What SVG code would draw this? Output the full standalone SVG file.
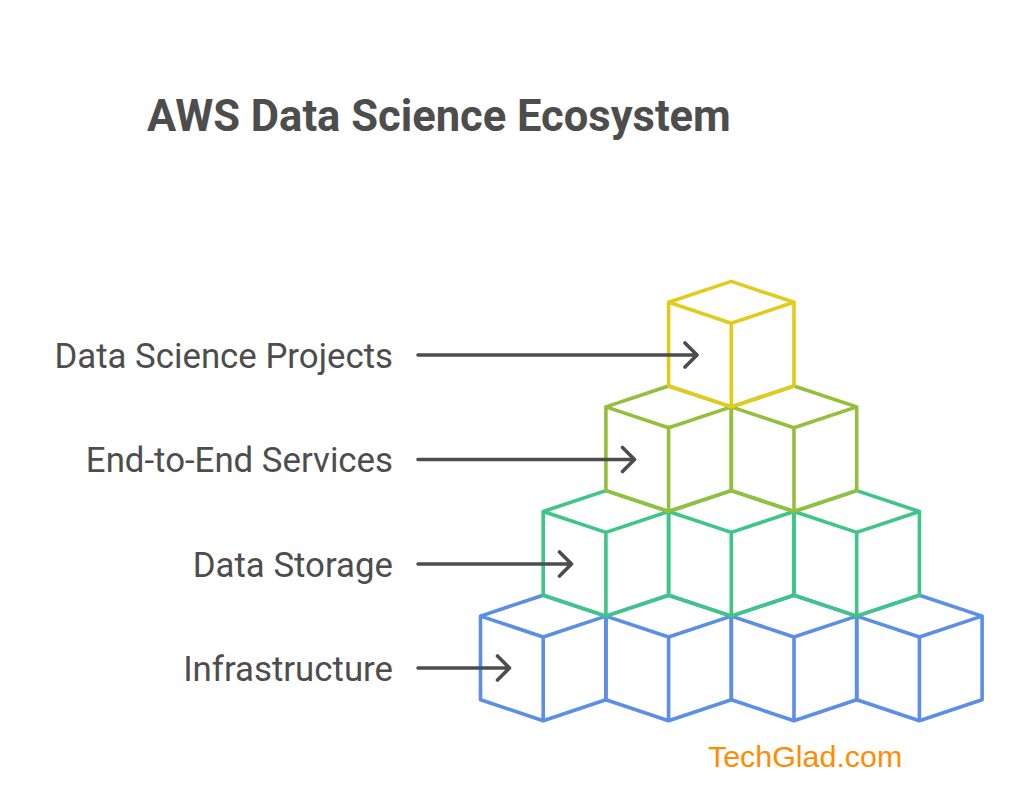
<svg xmlns="http://www.w3.org/2000/svg" xmlns:xlink="http://www.w3.org/1999/xlink" width="1024" height="804" viewBox="0 0 1024 804">
<style>
.t{font-family:Roboto,"Liberation Sans",sans-serif;fill:#4d4d4d}
.title{font-size:43.5px;font-weight:700}
.lab{font-size:34.8px;text-anchor:end}
.cube{fill:none;stroke-width:3.6;stroke-linejoin:round;stroke-linecap:round}
.arrow{fill:none;stroke:#4d4d4d;stroke-width:3.6;stroke-linecap:round;stroke-linejoin:round}
.blue{stroke:#5b8ee6}.green{stroke:#3ec688}.olive{stroke:#93c03b}.yellow{stroke:#e3cb1c}
</style>
<defs>
<path id="c" d="M0 0L62.7 20.9L0 41.8L-62.7 20.9ZM-62.7 20.9V104.6L0 125.5L62.7 104.6V20.9M0 41.8V125.5"/>
</defs>
<rect width="1024" height="804" fill="#ffffff"/>
<text id="title" class="t title" x="147" y="130.5">AWS Data Science Ecosystem</text>
<g id="infrastructure-cubes" class="cube blue">
<use xlink:href="#c" x="543.2" y="595.2"/><use xlink:href="#c" x="668.6" y="595.2"/><use xlink:href="#c" x="794" y="595.2"/><use xlink:href="#c" x="919.4" y="595.2"/>
</g>
<g id="storage-cubes" class="cube green">
<use xlink:href="#c" x="605.9" y="490.6"/><use xlink:href="#c" x="731.3" y="490.6"/><use xlink:href="#c" x="856.7" y="490.6"/>
</g>
<g id="services-cubes" class="cube olive">
<use xlink:href="#c" x="668.6" y="386"/><use xlink:href="#c" x="794" y="386"/>
</g>
<g id="projects-cube" class="cube yellow">
<use xlink:href="#c" x="731.3" y="281.4"/>
</g>
<g id="connectors" class="arrow">
<path d="M418 355H697M685 343L697 355L685 367"/>
<path d="M418 459.5H634.5M622.5 447.5L634.5 459.5L622.5 471.5"/>
<path d="M418 564H571.5M559.5 552L571.5 564L559.5 576"/>
<path d="M418 668H509.5M497.5 656L509.5 668L497.5 680"/>
</g>
<g id="node-projects"><text class="t lab" x="393" y="367.5">Data Science Projects</text></g>
<g id="node-services"><text class="t lab" x="393" y="471.5">End-to-End Services</text></g>
<g id="node-storage"><text class="t lab" x="393" y="576.5">Data Storage</text></g>
<g id="node-infrastructure"><text class="t lab" x="393" y="680.5">Infrastructure</text></g>
<text id="brand" x="708" y="766.5" font-family="'Liberation Sans',Arial,sans-serif" font-size="30.4" fill="#ff8c00">TechGlad.com</text>
</svg>
